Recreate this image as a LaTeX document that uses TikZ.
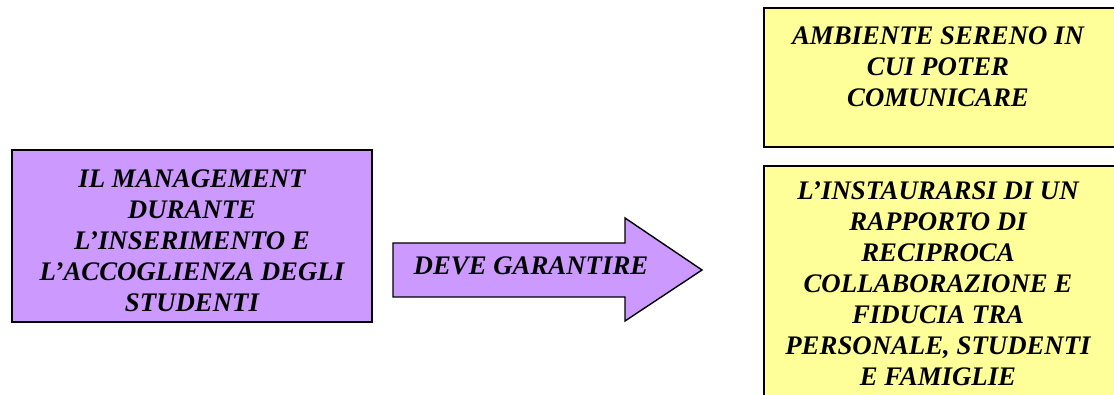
\documentclass[tikz,border=0pt]{standalone}
\usepackage{fontspec}
\setmainfont{Liberation Serif}
\definecolor{lilac}{HTML}{CC99FF}
\definecolor{paleyellow}{HTML}{FFFF99}
\tikzset{
  x=1pt,y=-1pt,
  boxshape/.style={draw=black,line width=1.8pt},
  boxtext/.style={align=center,inner sep=0pt,font=\fontsize{26.8}{31}\selectfont\bfseries\itshape},
}
\begin{document}
\begin{tikzpicture}
\useasboundingbox (0,0) rectangle (1114,395);
% left box
\draw[boxshape,fill=lilac] (12,150) rectangle (372,322);
\node[boxtext] (mgmt) at (192,241) {IL MANAGEMENT\\DURANTE\\L’INSERIMENTO E\\L’ACCOGLIENZA DEGLI\\STUDENTI};
% arrow
\draw[boxshape,line width=1.4pt,line join=miter,fill=lilac]
  (393,243) -- (625,243) -- (625,218) -- (702,270) -- (625,321) -- (625,297) -- (393,297) -- cycle;
\node[boxtext] (deve) at (531,265.5) {DEVE GARANTIRE};
% top right box
\draw[boxshape,fill=paleyellow] (764,8) rectangle (1116,147);
\node[boxtext] (amb) at (938,66.5) {AMBIENTE SERENO IN\\CUI POTER\\COMUNICARE};
% bottom right box
\draw[boxshape,fill=paleyellow] (764,166) rectangle (1116,400);
\node[boxtext] (inst) at (938,283.5) {L’INSTAURARSI DI UN\\RAPPORTO DI\\RECIPROCA\\COLLABORAZIONE E\\FIDUCIA TRA\\PERSONALE, STUDENTI\\E FAMIGLIE};
\end{tikzpicture}
\end{document}
